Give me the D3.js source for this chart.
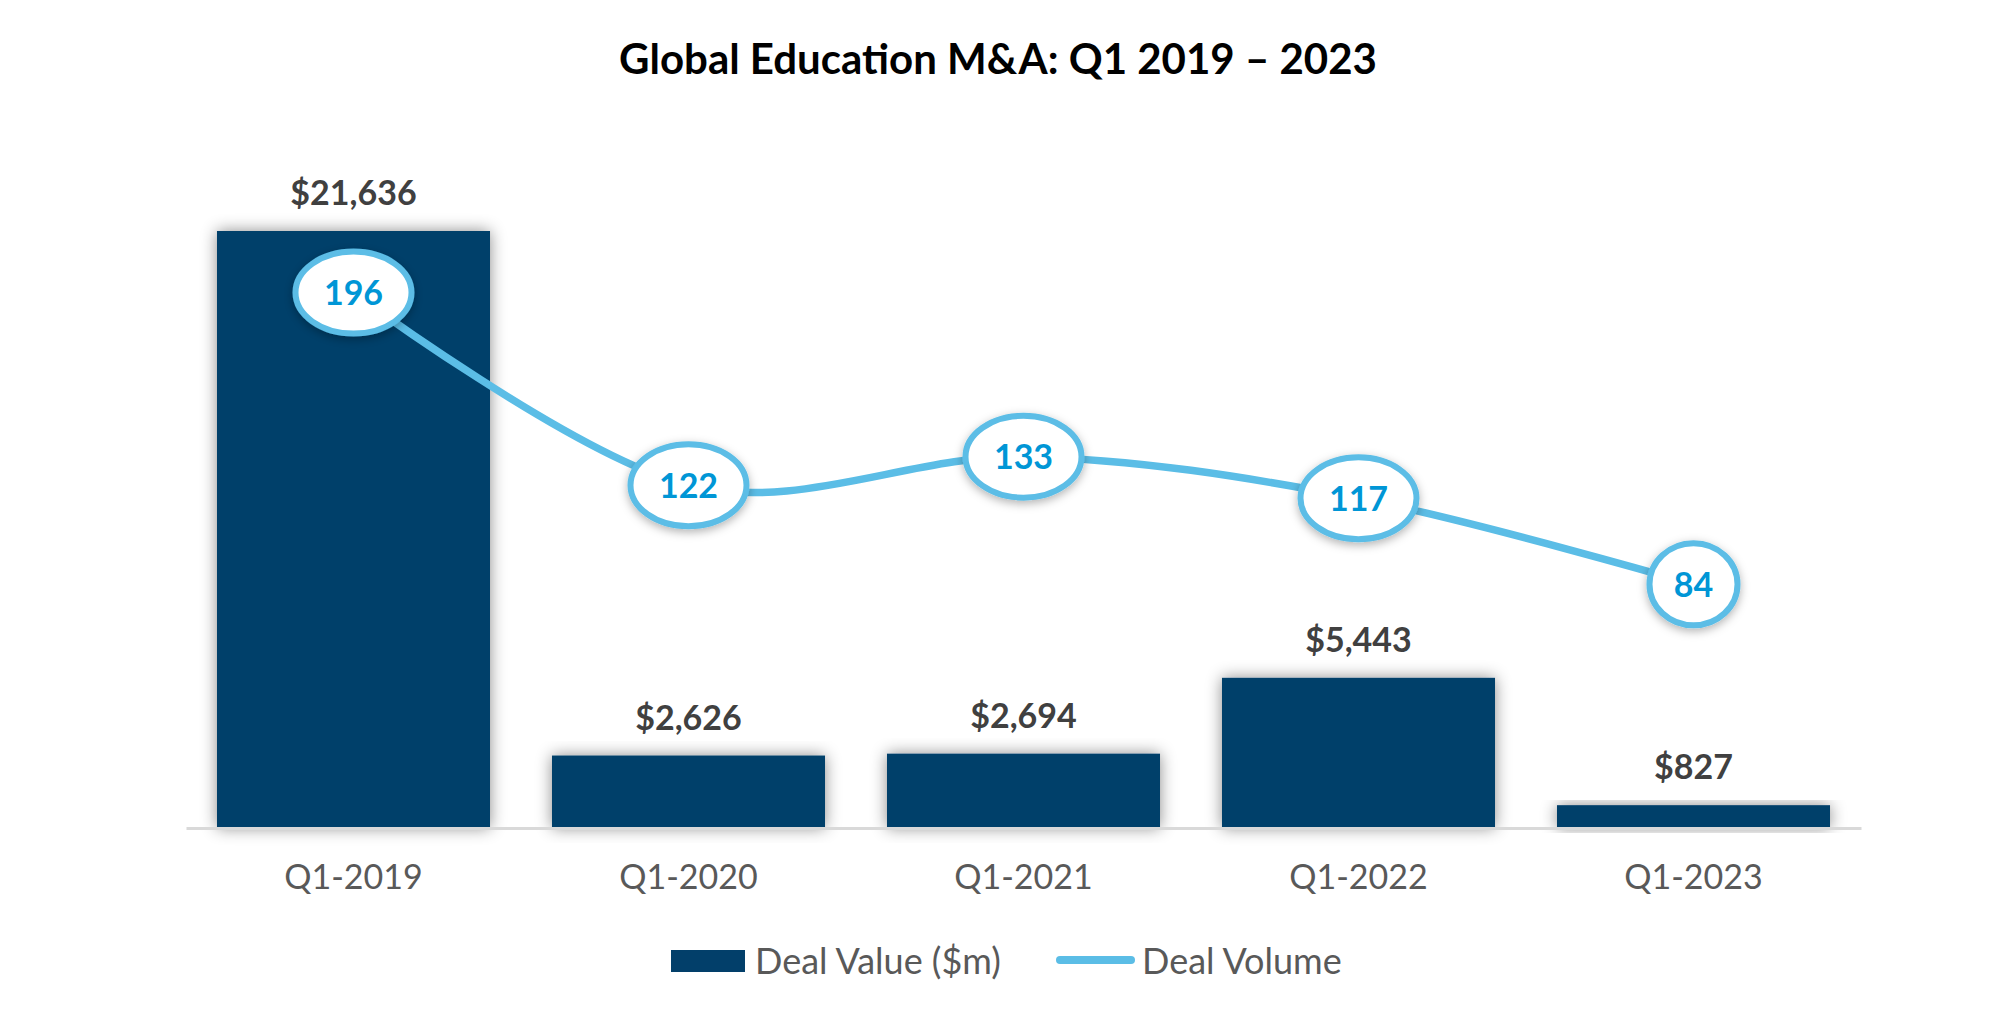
<!DOCTYPE html>
<html>
<head>
<meta charset="utf-8">
<script src="https://cdn.jsdelivr.net/npm/d3@7/dist/d3.min.js"></script>
<style>
  html, body { margin: 0; padding: 0; background: #ffffff; }
  svg { display: block; }
</style>
</head>
<body>
<svg id="chart" width="2000" height="1019"></svg>
<script>
// ---- Data ----
const categories = ["Q1-2019", "Q1-2020", "Q1-2021", "Q1-2022", "Q1-2023"];
const dealValue = [21636, 2626, 2694, 5443, 827];
const dealVolume = [196, 122, 133, 117, 84];
const valueLabels = ["$21,636", "$2,626", "$2,694", "$5,443", "$827"];
const titleText = "Global Education M&A: Q1 2019 \u2013 2023";
const legendLabels = ["Deal Value ($m)", "Deal Volume"];

// ---- Styles ----
const FONT = "Lato, 'Open Sans', sans-serif";
const barColor = "#023f6a";
const lineColor = "#5bbde6";
const volTextColor = "#0096d6";

const svg = d3.select("#chart");
const W = 2000, H = 1019;
svg.append("rect").attr("width", W).attr("height", H).attr("fill", "#fff");

const defs = svg.append("defs");
const fBar = defs.append("filter").attr("id", "barShadow")
  .attr("x", "-20%").attr("y", "-20%").attr("width", "140%").attr("height", "140%");
fBar.append("feDropShadow").attr("dx", 0).attr("dy", 0).attr("stdDeviation", 8)
  .attr("flood-color", "#000").attr("flood-opacity", 0.45);
const fEl = defs.append("filter").attr("id", "elShadow")
  .attr("x", "-30%").attr("y", "-30%").attr("width", "160%").attr("height", "160%");
fEl.append("feDropShadow").attr("dx", 0).attr("dy", 3).attr("stdDeviation", 5)
  .attr("flood-color", "#000").attr("flood-opacity", 0.3);

// ---- Scales ----
const x = d3.scaleBand().domain(categories).range([186, 1861])
  .paddingInner(0.185).paddingOuter(0.0925);
const yBar = d3.scaleLinear().domain([0, 21636]).range([828, 231]);
const yVol = d3.scaleLinear().domain([0, 250]).range([803, 152]);

// ---- Title ----
svg.append("text").attr("x", 998).attr("y", 74)
  .attr("text-anchor", "middle").attr("font-family", FONT)
  .attr("font-weight", 700).attr("font-size", 42).attr("fill", "#000")
  .text(titleText);

// ---- Bars ----
svg.append("g").selectAll("rect").data(categories).join("rect")
  .attr("x", d => x(d)).attr("width", x.bandwidth())
  .attr("y", (d, i) => yBar(dealValue[i]))
  .attr("height", (d, i) => yBar(0) - yBar(dealValue[i]))
  .attr("fill", barColor).attr("filter", "url(#barShadow)");

// ---- Axis (baseline + category labels) ----
const xAxis = d3.axisBottom(x).tickSize(0).tickPadding(37);
const gx = svg.append("g").attr("transform", `translate(0,${yBar(0)})`).call(xAxis);
gx.select(".domain").attr("stroke", "#d9d9d9").attr("stroke-width", 3);
gx.selectAll(".tick text").attr("font-family", FONT).attr("font-size", 34)
  .attr("fill", "#595959").attr("dy", "0.71em");

// ---- Bar value labels ----
svg.append("g").selectAll("text").data(categories).join("text")
  .attr("x", d => x(d) + x.bandwidth() / 2)
  .attr("y", (d, i) => yBar(dealValue[i]) - 26)
  .attr("text-anchor", "middle").attr("font-family", FONT)
  .attr("font-weight", 700).attr("font-size", 34).attr("fill", "#404040")
  .text((d, i) => valueLabels[i]);

// ---- Volume line ----
const line = d3.line()
  .x((d, i) => x(categories[i]) + x.bandwidth() / 2)
  .y(d => yVol(d))
  .curve(d3.curveCardinal.tension(0));
svg.append("path").datum(dealVolume).attr("d", line)
  .attr("fill", "none").attr("stroke", lineColor).attr("stroke-width", 7.5)
  .attr("stroke-linecap", "round");

// ---- Volume labels (ellipses) ----
const gl = svg.append("g").selectAll("g").data(dealVolume).join("g")
  .attr("transform", (d, i) => `translate(${x(categories[i]) + x.bandwidth() / 2},${yVol(d)})`);
gl.append("ellipse")
  .attr("rx", d => 16 + String(d).length * 14)
  .attr("ry", 41)
  .attr("fill", "#fff").attr("stroke", lineColor).attr("stroke-width", 6)
  .attr("filter", "url(#elShadow)");
gl.append("text").attr("text-anchor", "middle").attr("dy", "0.36em")
  .attr("font-family", FONT).attr("font-weight", 700).attr("font-size", 34)
  .attr("fill", volTextColor).text(d => d);

// ---- Legend ----
const lg = svg.append("g");
lg.append("rect").attr("x", 671).attr("y", 950).attr("width", 74).attr("height", 22)
  .attr("fill", barColor);
lg.append("text").attr("x", 755).attr("y", 974).attr("font-family", FONT)
  .attr("font-size", 36).attr("fill", "#595959").text(legendLabels[0]);
lg.append("line").attr("x1", 1060).attr("x2", 1131).attr("y1", 960).attr("y2", 960)
  .attr("stroke", lineColor).attr("stroke-width", 8).attr("stroke-linecap", "round");
lg.append("text").attr("x", 1142).attr("y", 974).attr("font-family", FONT)
  .attr("font-size", 36).attr("fill", "#595959").text(legendLabels[1]);
</script>
</body>
</html>
